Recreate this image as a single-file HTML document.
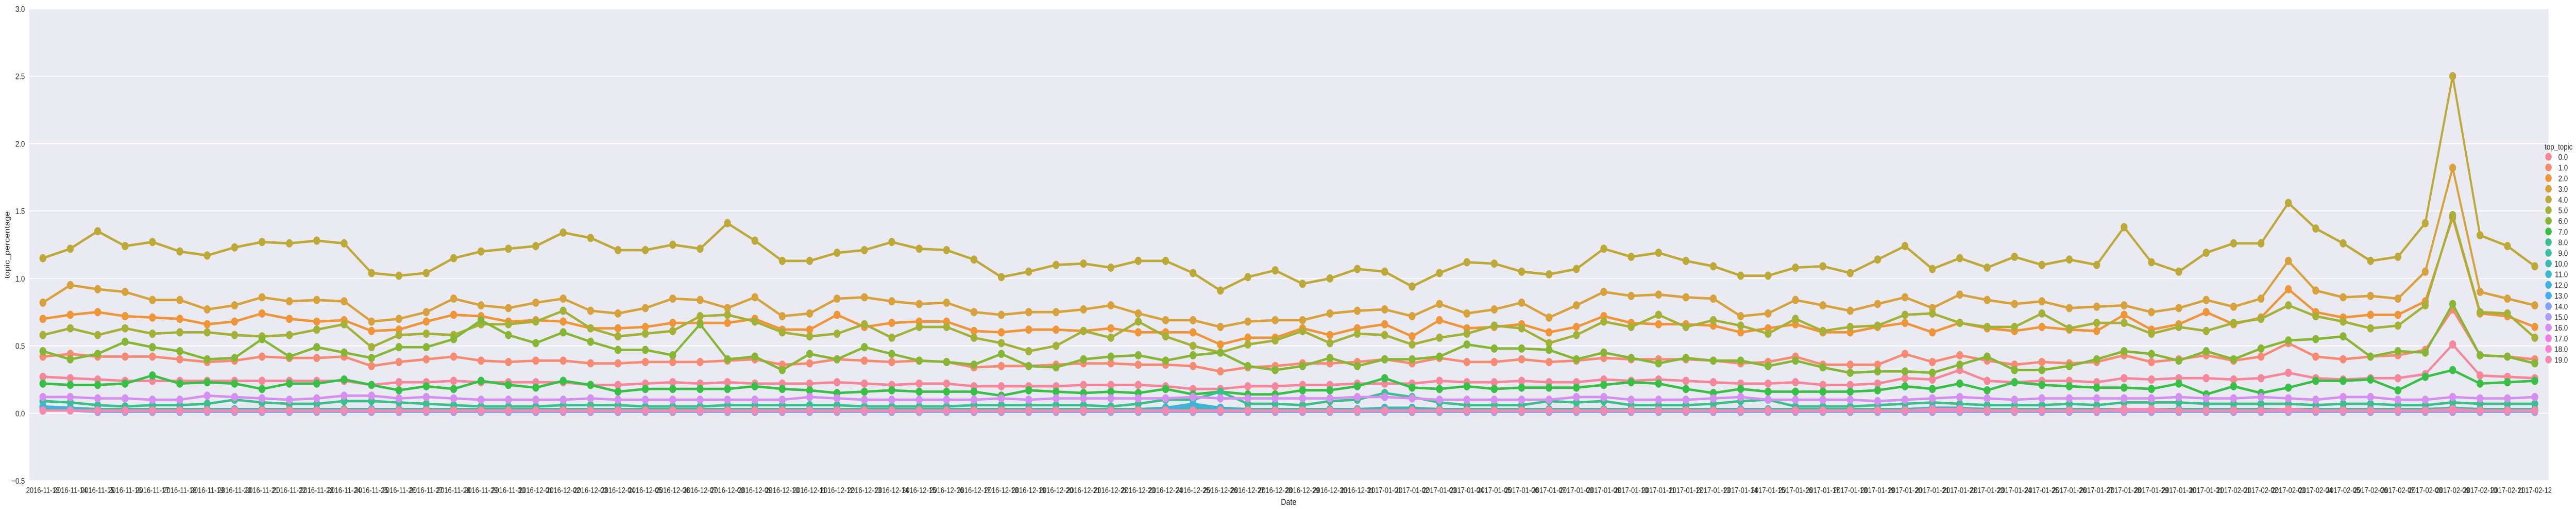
<!DOCTYPE html>
<html><head><meta charset="utf-8"><style>
html,body{margin:0;padding:0;background:#fff;width:100%;height:100%;overflow:hidden;}
svg{display:block;width:100vw;height:100vh;font-family:"Liberation Sans",sans-serif;}
</style></head>
<body>
<svg id="chart" viewBox="0 0 5997 987" preserveAspectRatio="none" xmlns="http://www.w3.org/2000/svg">
<rect x="68" y="17" width="5865" height="915" fill="#EAEAF2"/>
<g id="grid"></g>
<g id="yticks"></g>
<g id="xticks"></g>
<g id="series"></g>
<text transform="translate(22,475) rotate(-90)" text-anchor="middle" font-size="17" fill="#262626">topic_percentage</text>
<text x="3000" y="979" text-anchor="middle" font-size="17" fill="#262626">Date</text>
<g id="legend">
<text x="5924" y="290" font-size="16" fill="#262626">top_topic</text>
</g>
</svg>
<script>
const yTicks = [3.0, 2.5, 2.0, 1.5, 1.0, 0.5, 0.0, -0.5];
const topicLabels = ["0.0","1.0","2.0","3.0","4.0","5.0","6.0","7.0","8.0","9.0","10.0","11.0","12.0","13.0","14.0","15.0","16.0","17.0","18.0","19.0"];
const colors = ["#f6879b","#f78a72","#ef9537","#d7a23b","#bda937","#a5b037","#86b634","#38c046","#3bbf8c","#3bbca4","#3cb9b5","#3cb7c6","#3fb3dc","#49abf0","#84a3f4","#ad9bf4","#d58ff1","#f47ae7","#f585cf","#f68aae"];
const startDate = "2016-11-13";
const nDates = 92;

const s0 = [0.27,0.26,0.25,0.24,0.24,0.24,0.24,0.24,0.24,0.24,0.24,0.24,0.21,0.23,0.23,0.24,0.23,0.23,0.23,0.23,0.21,0.21,0.22,
0.23,0.22,0.23,0.22,0.22,0.22,0.23,0.22,0.21,0.22,0.22,0.20,0.20,0.20,0.20,0.21,0.21,0.21,0.20,0.18,0.18,0.20,0.20,
0.21,0.21,0.22,0.22,0.22,0.24,0.23,0.23,0.24,0.23,0.23,0.25,0.24,0.25,0.24,0.23,0.22,0.22,0.23,0.21,0.21,0.22,0.26,
0.25,0.32,0.24,0.23,0.24,0.24,0.23,0.26,0.25,0.26,0.26,0.25,0.26,0.30,0.26,0.25,0.26,0.26,0.29,0.51,0.28,0.27,0.26];
const s1 = [0.42,0.44,0.42,0.42,0.42,0.40,0.38,0.39,0.42,0.41,0.41,0.42,0.35,0.38,0.40,0.42,0.39,0.38,0.39,0.39,0.37,0.37,0.38,
0.38,0.38,0.39,0.40,0.36,0.37,0.40,0.39,0.38,0.39,0.38,0.34,0.35,0.35,0.36,0.37,0.37,0.36,0.36,0.35,0.31,0.34,0.35,
0.37,0.37,0.38,0.40,0.37,0.41,0.38,0.38,0.40,0.38,0.39,0.41,0.40,0.40,0.40,0.39,0.37,0.38,0.42,0.36,0.36,0.36,0.44,
0.38,0.43,0.39,0.36,0.38,0.37,0.38,0.43,0.38,0.40,0.43,0.39,0.42,0.52,0.42,0.40,0.42,0.43,0.47,0.77,0.43,0.42,0.40];
const s2 = [0.70,0.73,0.75,0.72,0.71,0.70,0.66,0.68,0.74,0.70,0.68,0.69,0.61,0.62,0.68,0.73,0.72,0.68,0.69,0.68,0.63,0.63,0.64,
0.67,0.67,0.67,0.70,0.62,0.62,0.73,0.64,0.67,0.68,0.68,0.61,0.60,0.62,0.62,0.61,0.63,0.60,0.60,0.60,0.51,0.56,0.56,
0.63,0.58,0.63,0.66,0.57,0.69,0.63,0.64,0.66,0.60,0.64,0.72,0.67,0.66,0.66,0.65,0.60,0.63,0.66,0.60,0.60,0.64,0.67,
0.60,0.67,0.63,0.61,0.64,0.62,0.61,0.73,0.62,0.66,0.75,0.66,0.71,0.92,0.75,0.71,0.73,0.73,0.83,1.45,0.74,0.72,0.64];
const s3 = [0.82,0.95,0.92,0.90,0.84,0.84,0.77,0.80,0.86,0.83,0.84,0.83,0.68,0.70,0.75,0.85,0.80,0.78,0.82,0.85,0.76,0.74,0.78,
0.85,0.84,0.78,0.86,0.72,0.74,0.85,0.86,0.83,0.81,0.82,0.75,0.73,0.75,0.75,0.77,0.80,0.74,0.69,0.69,0.64,0.68,0.69,
0.69,0.74,0.76,0.77,0.72,0.81,0.74,0.77,0.82,0.71,0.80,0.90,0.87,0.88,0.86,0.85,0.72,0.74,0.84,0.80,0.76,0.81,0.86,
0.78,0.88,0.84,0.81,0.83,0.78,0.79,0.80,0.75,0.78,0.84,0.79,0.85,1.13,0.91,0.86,0.87,0.85,1.05,1.82,0.90,0.85,0.80];
const s4 = [1.15,1.22,1.35,1.24,1.27,1.20,1.17,1.23,1.27,1.26,1.28,1.26,1.04,1.02,1.04,1.15,1.20,1.22,1.24,1.34,1.30,1.21,1.21,
1.25,1.22,1.41,1.28,1.13,1.13,1.19,1.21,1.27,1.22,1.21,1.14,1.01,1.05,1.10,1.11,1.08,1.13,1.13,1.04,0.91,1.01,1.06,
0.96,1.00,1.07,1.05,0.94,1.04,1.12,1.11,1.05,1.03,1.07,1.22,1.16,1.19,1.13,1.09,1.02,1.02,1.08,1.09,1.04,1.14,1.24,
1.07,1.15,1.08,1.16,1.10,1.14,1.10,1.38,1.12,1.05,1.19,1.26,1.26,1.56,1.37,1.26,1.13,1.16,1.41,2.50,1.32,1.24,1.09];
const s5 = [0.58,0.63,0.58,0.63,0.59,0.60,0.60,0.58,0.57,0.58,0.62,0.66,0.49,0.58,0.59,0.58,0.66,0.66,0.68,0.76,0.63,0.57,0.59,
0.61,0.72,0.73,0.68,0.60,0.57,0.59,0.66,0.56,0.64,0.64,0.56,0.52,0.46,0.50,0.61,0.56,0.68,0.57,0.50,0.45,0.51,0.54,
0.61,0.52,0.59,0.58,0.51,0.56,0.59,0.65,0.63,0.52,0.58,0.68,0.64,0.73,0.64,0.69,0.65,0.59,0.70,0.61,0.64,0.65,0.73,
0.74,0.67,0.64,0.64,0.74,0.63,0.67,0.67,0.59,0.64,0.61,0.67,0.70,0.80,0.72,0.68,0.63,0.65,0.80,1.47,0.75,0.74,0.56];
const s6 = [0.46,0.40,0.44,0.53,0.49,0.46,0.40,0.41,0.55,0.42,0.49,0.45,0.41,0.49,0.49,0.55,0.69,0.58,0.52,0.60,0.53,0.47,0.47,
0.43,0.66,0.40,0.42,0.32,0.44,0.40,0.49,0.44,0.39,0.38,0.36,0.44,0.35,0.34,0.40,0.42,0.43,0.39,0.43,0.45,0.35,0.32,
0.35,0.41,0.35,0.40,0.40,0.42,0.51,0.48,0.48,0.47,0.40,0.45,0.41,0.37,0.41,0.39,0.39,0.35,0.39,0.34,0.30,0.31,0.31,
0.30,0.36,0.42,0.32,0.32,0.35,0.40,0.46,0.44,0.39,0.46,0.40,0.48,0.54,0.55,0.57,0.42,0.46,0.45,0.81,0.43,0.42,0.37];
const s7 = [0.22,0.21,0.21,0.22,0.28,0.22,0.23,0.22,0.18,0.22,0.22,0.25,0.21,0.17,0.20,0.18,0.24,0.21,0.19,0.24,0.21,0.16,0.18,
0.18,0.18,0.18,0.20,0.18,0.17,0.15,0.16,0.17,0.16,0.16,0.16,0.13,0.17,0.16,0.15,0.16,0.15,0.18,0.14,0.16,0.14,0.14,
0.17,0.17,0.20,0.26,0.19,0.18,0.20,0.18,0.19,0.19,0.19,0.21,0.23,0.22,0.18,0.15,0.18,0.16,0.16,0.16,0.16,0.17,0.20,
0.18,0.22,0.17,0.23,0.21,0.20,0.19,0.19,0.18,0.22,0.14,0.20,0.15,0.19,0.24,0.24,0.25,0.17,0.27,0.32,0.22,0.23,0.24];
const s8 = [0.09,0.08,0.06,0.05,0.06,0.06,0.07,0.10,0.08,0.07,0.07,0.09,0.09,0.08,0.07,0.06,0.05,0.05,0.05,0.06,0.06,0.06,0.05,
0.05,0.05,0.06,0.06,0.06,0.06,0.06,0.05,0.05,0.05,0.05,0.06,0.06,0.06,0.06,0.06,0.05,0.07,0.10,0.10,0.16,0.07,0.07,
0.06,0.09,0.10,0.15,0.12,0.08,0.06,0.06,0.06,0.09,0.08,0.09,0.06,0.06,0.06,0.07,0.09,0.10,0.05,0.05,0.05,0.06,0.07,
0.08,0.07,0.06,0.06,0.06,0.07,0.06,0.08,0.08,0.08,0.07,0.07,0.07,0.07,0.06,0.07,0.07,0.06,0.06,0.08,0.07,0.07,0.07];
const s9 = [0.04,0.04,0.03,0.03,0.03,0.03,0.03,0.03,0.03,0.03,0.03,0.03,0.03,0.03,0.03,0.03,0.03,0.03,0.03,0.03,0.03,0.03,0.03,
0.03,0.03,0.03,0.03,0.03,0.03,0.03,0.03,0.03,0.03,0.03,0.03,0.03,0.03,0.03,0.03,0.03,0.03,0.04,0.04,0.04,0.03,0.03,
0.03,0.03,0.03,0.04,0.04,0.03,0.03,0.03,0.03,0.03,0.03,0.03,0.03,0.03,0.03,0.03,0.03,0.03,0.03,0.03,0.03,0.03,0.03,
0.04,0.04,0.03,0.03,0.03,0.03,0.03,0.03,0.03,0.03,0.03,0.03,0.03,0.03,0.03,0.03,0.03,0.03,0.03,0.04,0.03,0.03,0.03];
const s10 = [0.03,0.03,0.02,0.02,0.02,0.02,0.02,0.02,0.02,0.02,0.02,0.02,0.02,0.02,0.02,0.02,0.02,0.02,0.02,0.02,0.02,0.02,0.02,
0.02,0.02,0.02,0.02,0.02,0.02,0.02,0.02,0.02,0.02,0.02,0.02,0.02,0.02,0.02,0.02,0.02,0.02,0.03,0.03,0.03,0.02,0.02,
0.02,0.02,0.02,0.03,0.03,0.02,0.02,0.02,0.02,0.02,0.02,0.02,0.02,0.02,0.02,0.02,0.02,0.02,0.02,0.02,0.02,0.02,0.02,
0.03,0.03,0.02,0.02,0.02,0.02,0.02,0.02,0.02,0.02,0.02,0.02,0.02,0.02,0.02,0.02,0.02,0.02,0.02,0.03,0.02,0.02,0.02];
const s11 = [0.05,0.04,0.02,0.02,0.02,0.02,0.02,0.03,0.02,0.02,0.02,0.02,0.03,0.02,0.02,0.02,0.02,0.02,0.02,0.02,0.02,0.02,0.02,
0.02,0.02,0.02,0.02,0.02,0.03,0.02,0.02,0.02,0.02,0.02,0.02,0.02,0.02,0.02,0.02,0.02,0.02,0.04,0.07,0.04,0.02,0.02,
0.02,0.02,0.03,0.03,0.03,0.02,0.02,0.02,0.02,0.02,0.02,0.02,0.02,0.02,0.02,0.02,0.03,0.02,0.02,0.02,0.02,0.02,0.02,
0.04,0.04,0.02,0.02,0.02,0.02,0.02,0.03,0.03,0.02,0.02,0.02,0.02,0.03,0.02,0.02,0.02,0.02,0.02,0.03,0.02,0.02,0.02];
const s12 = [0.05,0.03,0.02,0.02,0.02,0.02,0.02,0.02,0.01,0.02,0.02,0.02,0.02,0.02,0.02,0.02,0.01,0.01,0.01,0.02,0.02,0.02,0.02,
0.02,0.02,0.02,0.02,0.02,0.02,0.02,0.02,0.02,0.02,0.02,0.02,0.02,0.02,0.02,0.02,0.02,0.02,0.03,0.06,0.03,0.02,0.02,
0.02,0.02,0.02,0.02,0.02,0.02,0.02,0.02,0.02,0.02,0.02,0.02,0.02,0.02,0.02,0.02,0.02,0.02,0.02,0.02,0.02,0.02,0.02,
0.04,0.03,0.02,0.02,0.02,0.02,0.02,0.03,0.03,0.02,0.02,0.02,0.02,0.03,0.02,0.02,0.02,0.02,0.02,0.03,0.02,0.02,0.02];
const s13 = [0.02,0.02,0.02,0.02,0.02,0.02,0.02,0.02,0.02,0.02,0.02,0.02,0.02,0.02,0.02,0.02,0.02,0.02,0.02,0.02,0.02,0.02,0.02,
0.02,0.02,0.02,0.02,0.02,0.02,0.02,0.02,0.02,0.02,0.02,0.02,0.02,0.02,0.02,0.02,0.02,0.02,0.02,0.02,0.02,0.02,0.02,
0.02,0.02,0.02,0.02,0.02,0.02,0.02,0.02,0.02,0.02,0.02,0.02,0.02,0.02,0.02,0.02,0.02,0.02,0.02,0.02,0.02,0.02,0.02,
0.02,0.02,0.02,0.02,0.02,0.02,0.02,0.02,0.02,0.02,0.02,0.02,0.02,0.02,0.02,0.02,0.02,0.02,0.02,0.02,0.02,0.02,0.02];
const s14 = [0.02,0.02,0.01,0.01,0.01,0.01,0.01,0.01,0.01,0.01,0.01,0.01,0.01,0.01,0.01,0.01,0.01,0.01,0.01,0.01,0.01,0.01,0.01,
0.01,0.01,0.01,0.01,0.01,0.01,0.01,0.01,0.01,0.01,0.01,0.01,0.01,0.01,0.01,0.01,0.01,0.01,0.01,0.01,0.01,0.01,0.01,
0.01,0.01,0.01,0.01,0.01,0.01,0.01,0.01,0.01,0.01,0.01,0.01,0.01,0.01,0.01,0.01,0.01,0.01,0.01,0.01,0.01,0.01,0.01,
0.01,0.01,0.01,0.01,0.01,0.01,0.01,0.01,0.01,0.01,0.01,0.01,0.01,0.01,0.01,0.01,0.01,0.01,0.01,0.01,0.01,0.01,0.01];
const s15 = [0.02,0.02,0.02,0.02,0.02,0.02,0.02,0.02,0.02,0.02,0.02,0.02,0.02,0.02,0.02,0.02,0.02,0.02,0.02,0.02,0.02,0.02,0.02,
0.02,0.02,0.02,0.02,0.02,0.02,0.02,0.02,0.02,0.02,0.02,0.02,0.02,0.02,0.02,0.02,0.02,0.02,0.02,0.02,0.02,0.02,0.02,
0.02,0.02,0.02,0.02,0.02,0.02,0.02,0.02,0.02,0.02,0.02,0.02,0.02,0.02,0.02,0.02,0.02,0.02,0.02,0.02,0.02,0.02,0.02,
0.02,0.02,0.02,0.02,0.02,0.02,0.02,0.02,0.02,0.02,0.02,0.02,0.02,0.02,0.02,0.02,0.02,0.02,0.02,0.02,0.02,0.02,0.02];
const s16 = [0.12,0.12,0.11,0.11,0.10,0.10,0.13,0.12,0.11,0.10,0.11,0.13,0.13,0.11,0.12,0.11,0.10,0.10,0.10,0.10,0.11,0.10,0.10,
0.10,0.10,0.10,0.10,0.10,0.12,0.11,0.10,0.10,0.10,0.10,0.10,0.11,0.10,0.11,0.11,0.11,0.11,0.11,0.12,0.11,0.11,0.11,
0.11,0.11,0.12,0.12,0.11,0.10,0.10,0.10,0.10,0.10,0.12,0.12,0.10,0.10,0.10,0.11,0.12,0.10,0.10,0.10,0.10,0.09,0.10,
0.11,0.12,0.11,0.10,0.11,0.11,0.11,0.11,0.11,0.12,0.11,0.11,0.12,0.11,0.10,0.12,0.12,0.10,0.10,0.12,0.11,0.11,0.12];
const s17 = [0.02,0.02,0.02,0.02,0.02,0.02,0.02,0.02,0.02,0.02,0.02,0.02,0.02,0.02,0.02,0.02,0.02,0.02,0.02,0.02,0.02,0.02,0.02,
0.02,0.02,0.02,0.02,0.02,0.02,0.02,0.02,0.02,0.02,0.02,0.02,0.02,0.02,0.02,0.02,0.02,0.02,0.02,0.02,0.02,0.02,0.02,
0.02,0.02,0.02,0.02,0.02,0.02,0.02,0.02,0.02,0.02,0.02,0.02,0.02,0.02,0.02,0.02,0.02,0.02,0.02,0.02,0.02,0.02,0.02,
0.02,0.02,0.02,0.02,0.02,0.02,0.02,0.02,0.02,0.02,0.02,0.02,0.02,0.02,0.02,0.02,0.02,0.02,0.02,0.02,0.02,0.02,0.02];
const s18 = [0.02,0.02,0.02,0.02,0.02,0.02,0.02,0.02,0.02,0.02,0.02,0.02,0.02,0.02,0.02,0.02,0.02,0.02,0.02,0.02,0.02,0.02,0.02,
0.02,0.02,0.02,0.02,0.02,0.02,0.02,0.02,0.02,0.02,0.02,0.02,0.02,0.02,0.02,0.02,0.02,0.02,0.02,0.02,0.02,0.02,0.02,
0.02,0.02,0.02,0.02,0.02,0.02,0.02,0.02,0.02,0.02,0.02,0.02,0.02,0.02,0.02,0.02,0.02,0.02,0.02,0.02,0.02,0.02,0.02,
0.02,0.02,0.02,0.02,0.02,0.02,0.02,0.02,0.02,0.02,0.02,0.02,0.02,0.02,0.02,0.02,0.02,0.02,0.02,0.02,0.02,0.02,0.02];
const s19 = [0.02,0.02,0.02,0.02,0.02,0.02,0.02,0.02,0.02,0.02,0.02,0.02,0.02,0.02,0.02,0.02,0.02,0.02,0.02,0.02,0.02,0.02,0.02,
0.02,0.02,0.02,0.02,0.02,0.02,0.02,0.02,0.02,0.02,0.02,0.02,0.02,0.02,0.02,0.02,0.02,0.02,0.02,0.02,0.02,0.02,0.02,
0.02,0.02,0.02,0.02,0.02,0.02,0.02,0.02,0.02,0.02,0.02,0.02,0.02,0.02,0.02,0.02,0.02,0.02,0.02,0.02,0.02,0.02,0.02,
0.03,0.03,0.02,0.02,0.02,0.02,0.02,0.03,0.03,0.02,0.02,0.02,0.02,0.03,0.02,0.02,0.02,0.02,0.02,0.03,0.02,0.02,0.02];

const seriesList = [s0,s1,s2,s3,s4,s5,s6,s7,s8,s9,s10,s11,s12,s13,s14,s15,s16,s17,s18,s19];

const NS = "http://www.w3.org/2000/svg";
const PL = 68, PR = 5933, PT = 17, PB = 932, YMAX = 3.0, YMIN = -0.5;
const dates = [];
(function(){
  const d = new Date(startDate + "T00:00:00Z");
  for (let i = 0; i < nDates; i++) {
    const t = new Date(d.getTime() + i * 86400000);
    dates.push(t.toISOString().slice(0, 10));
  }
})();
const band = (PR - PL) / dates.length;
function xScale(i) { return PL + (i + 0.5) * band; }
function yScale(v) { return PT + (YMAX - v) / (YMAX - YMIN) * (PB - PT); }
function mk(tag, attrs) {
  const e = document.createElementNS(NS, tag);
  for (const k in attrs) e.setAttribute(k, attrs[k]);
  return e;
}

const grid = document.getElementById('grid');
const yt = document.getElementById('yticks');
yTicks.forEach(function(v){
  const y = yScale(v);
  const ln = mk('line', {x1: PL, x2: PR, y1: y, y2: y, stroke: '#ffffff', 'stroke-width': 1.8});
  
  
  grid.appendChild(ln);
  const t = mk('text', {x: 58, y: y + 6, 'text-anchor': 'end', 'font-size': 16, fill: '#262626'});
  
  
  t.textContent = v.toFixed(1).replace('-', '\u2212');
  yt.appendChild(t);
});

const xt = document.getElementById('xticks');
dates.forEach(function(d, i){
  const t = mk('text', {x: xScale(i), y: 956, 'text-anchor': 'middle', 'font-size': 15.5, fill: '#262626'});
  
  
  t.textContent = d;
  xt.appendChild(t);
});

const sg = document.getElementById('series');
seriesList.forEach(function(vals, s){
  const g = mk('g', {});
  
  
  const pts = vals.map(function(v, i){ return xScale(i).toFixed(1) + ',' + yScale(v).toFixed(1); }).join(' ');
  const pl = mk('polyline', {points: pts, fill: 'none', stroke: colors[s], 'stroke-width': 4.8, 'stroke-linejoin': 'round'});
  
  
  g.appendChild(pl);
  vals.forEach(function(v, i){
    const c = mk('circle', {cx: xScale(i), cy: yScale(v), r: 8, fill: colors[s]});
    
    
    g.appendChild(c);
  });
  sg.appendChild(g);
});

const lg = document.getElementById('legend');
topicLabels.forEach(function(lab, k){
  const y = 304 + k * 20.7;
  const c = mk('circle', {cx: 5933, cy: y, r: 7.5, fill: colors[k]});
  
  
  lg.appendChild(c);
  const t = mk('text', {x: 5978, y: y + 6, 'text-anchor': 'end', 'font-size': 16, fill: '#262626'});
  
  
  t.textContent = lab;
  lg.appendChild(t);
});
</script>
</body></html>
